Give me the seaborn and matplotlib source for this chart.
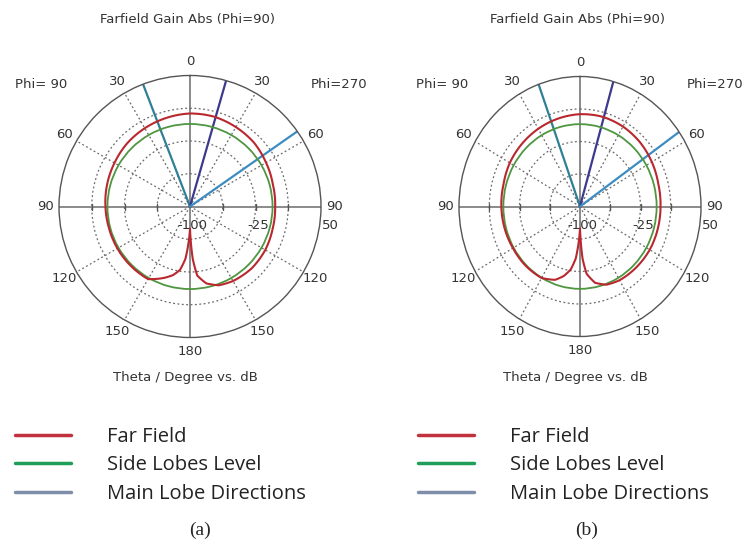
import numpy as np
import matplotlib
matplotlib.use("Agg")
import matplotlib.pyplot as plt
import seaborn as sns
from matplotlib.lines import Line2D

# Theta in degrees from boresight: + is the Phi=270 side (right), - is the Phi=90 side (left)
theta_a = [-180, -175, -171, -166, -160, -150, -135, -120, -105, -90, -75, -60, -45, -30, -15,
           0, 15, 30, 45, 60, 75, 90, 105, 120, 135, 150, 160, 168, 174, 177, 180]
far_field_a = [-74.5, -40, -26.5, -19, -13, -4, -4, -4, -4, -3.2, -1.8, -0.2, 2, 3.5, 5,
               6.5, 6.5, 5, 3.5, 0.5, -1.8, -2.5, -2, -0.5, 0, -1.5, -4, -10, -20.5, -40, -74.5]

theta_b = [-180, -175, -171, -166, -160, -150, -135, -120, -105, -90, -75, -60, -45, -30, -15,
           0, 15, 30, 45, 60, 75, 90, 105, 120, 135, 150, 160, 168, 174, 177, 180]
far_field_b = [-74.5, -40, -26.5, -17.5, -10, -4.8, -4, -4, -3.2, -2.5, -1.8, 0.5, 2, 3.5, 5,
               6.5, 7.2, 6.5, 5, 2.8, 0.5, -0.2, -0.2, -0.2, -1, -1.8, -4, -10, -22, -40, -74.5]

# side lobe level (dB), read every 30 deg
sll_theta = [-180, -150, -120, -90, -60, -30, 0, 30, 60, 90, 120, 150, 180]
sll_a = [-5.5, -5.5, -5.5, -5.5, -5.5, -5.5, -5.5, -5.5, -5.5, -5.5, -5.5, -5.5, -5.5]
sll_b = [-5.0, -5.0, -5.0, -5.0, -5.0, -5.0, -5.0, -5.0, -5.0, -5.0, -5.0, -5.0, -5.0]

# main lobe directions (deg)
lobes_a = [-21, 16, 55]
lobes_b = [-20, 16, 55]
lobe_colors = ["#2f7f95", "#3d3a8e", "#3c8cc2"]

theta_ticks = [0, 30, 60, 90, 120, 150, 180, 210, 240, 270, 300, 330]
theta_labels = ["0", "30", "60", "90", "120", "150", "180", "150", "120", "90", "60", "30"]
r_rings = [-62.5, -25, 12.5]
r_labels = [-100, -25, 50]

sns.set_theme(style="white")
plt.rcParams["font.family"] = ["DejaVu Sans"]

W, H = 744, 547
fig = plt.figure(figsize=(W / 100, H / 100), dpi=100)
fig.patch.set_facecolor("white")
FS = 9.5


def px(x, y):
    return x / W, 1 - y / H


def smooth(line):
    # let the polar transform bend the segments instead of drawing chords
    line.get_path()._interpolation_steps = 40


def panel(cx, cy, rx, ry, theta, gain, sll, lobes, stretch=False):
    ax = fig.add_axes([(cx - rx) / W, (H - cy - ry) / H, 2 * rx / W, 2 * ry / H],
                      projection="polar")
    ax.set_theta_zero_location("N")
    ax.set_theta_direction(-1)
    ax.set_ylim(-100, 50)
    if stretch:
        ax.set_aspect("auto")

    ax.set_thetagrids(theta_ticks, theta_labels)
    ax.set_rgrids(r_rings, labels=["", "", ""])
    ax.grid(True, color="#6a6a6a", linestyle=(0, (1.5, 2)), linewidth=0.9)
    for ang, gl in zip(theta_ticks, ax.xaxis.get_gridlines()):
        if ang % 90 == 0:
            gl.set_linestyle("-")
            gl.set_color("#777777")
            gl.set_linewidth(1.2)
    ax.tick_params(axis="x", pad=-3, labelsize=FS, labelcolor="#333333")
    ax.spines["polar"].set_color("#555555")
    ax.spines["polar"].set_linewidth(1.0)

    # small ticks on the horizontal axis
    for r in r_rings:
        ax.plot([np.pi / 2, 3 * np.pi / 2], [r, r], ls="none", marker="|",
                ms=5, mew=1.0, color="#555555")

    for r in r_labels:
        dx = 7 if r == r_labels[-1] else 2
        ax.annotate(f"{r:g}", xy=(np.pi / 2, r), xytext=(dx, -14), textcoords="offset points",
                    ha="center", va="center", fontsize=FS, color="#333333",
                    annotation_clip=False)

    for t, c in zip(lobes, lobe_colors):
        ax.plot([np.deg2rad(t)] * 2, [-100, 50], color=c, lw=1.6)

    sns.lineplot(x=np.deg2rad(sll_theta), y=sll, ax=ax, sort=False, estimator=None,
                 color="#4e9640", lw=1.3)
    smooth(ax.lines[-1])
    sns.lineplot(x=np.deg2rad(theta), y=gain, ax=ax, sort=False, estimator=None,
                 color="#b8282e", lw=1.5)
    smooth(ax.lines[-1])
    ax.set_xlabel("")
    ax.set_ylabel("")
    return ax


panel(190, 206.5, 131, 131, theta_a, far_field_a, sll_a, lobes_a)
panel(580, 206.5, 121, 130, theta_b, far_field_b, sll_b, lobes_b, stretch=True)

txt = dict(fontsize=FS, color="#333333", ha="center", va="center")
for cx, phi_l, phi_r, ha_r in [(190, 41, 339, "center"), (580, 442, 743, "right")]:
    fig.text(*px(cx - 2, 20), "Farfield Gain Abs (Phi=90)", **txt)
    fig.text(*px(cx - 5, 378), "Theta / Degree vs. dB", **txt)
    fig.text(*px(phi_l, 85), "Phi= 90", **txt)
    fig.text(*px(phi_r, 85), "Phi=270", **dict(txt, ha=ha_r))

handles = [Line2D([], [], color="#c1323f", lw=2.5),
           Line2D([], [], color="#1f9e5a", lw=2.5),
           Line2D([], [], color="#7f8ea8", lw=2.5)]
names = ["Far Field", "Side Lobes Level", "Main Lobe Directions"]
for x0 in [15, 418]:
    fig.legend(handles, names, loc="upper left", bbox_to_anchor=px(x0, 427),
               frameon=False, borderpad=0, borderaxespad=0, handlelength=2.8,
               handletextpad=1.75, labelspacing=0.42,
               prop={"family": "Open Sans", "size": 14.5}, labelcolor="#222222")

fig.text(*px(200, 530), "(a)", fontsize=14, family="Liberation Serif", ha="center", va="center")
fig.text(*px(587, 530), "(b)", fontsize=14, family="Liberation Serif", ha="center", va="center")

fig.savefig("out.png", dpi=100, facecolor="white")
